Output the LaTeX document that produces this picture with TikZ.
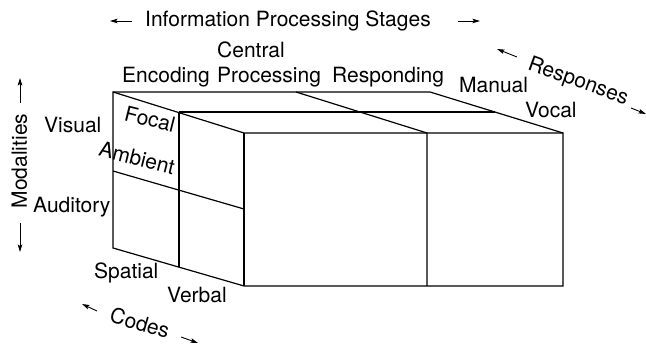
\documentclass[tikz,border=0pt]{standalone}
\usepackage{fontspec}
\setmainfont{TeX Gyre Heros}
\usetikzlibrary{arrows.meta}
\tikzset{
  boxline/.style={line width=1.2pt, line join=miter},
  dirarrow/.style={line width=0.9pt, -{Stealth[length=7.5pt,width=4.5pt,inset=1.5pt]}},
  lbl/.style={inner sep=0pt, font=\fontsize{21}{25}\selectfont},
}
\begin{document}
\begin{tikzpicture}[x=1pt,y=-1pt]
\useasboundingbox (0,0) rectangle (646,344);
% box corners
\coordinate (A) at (113,92);
\coordinate (B) at (244,133);
\coordinate (C) at (244,286);
\coordinate (D) at (113,248);
\coordinate (E) at (430,92);
\coordinate (F) at (563,133);
\coordinate (G) at (563,286);
\coordinate (H) at (296,92);
\coordinate (I) at (427,133);
\coordinate (J) at (427,286);
\coordinate (M1) at (179,112);
\coordinate (M2) at (495,112);
\coordinate (M3) at (179,267);
\coordinate (L1) at (113,171);
\coordinate (L2) at (244,209);
% box
\draw[boxline] (A) -- (E) -- (F) -- (G) -- (C) -- (D) -- cycle;
\draw[boxline] (A) -- (B) -- (F);
\draw[boxline] (B) -- (C);
\draw[boxline] (H) -- (I) -- (J);
\draw[boxline] (M1) -- (M2);
\draw[boxline] (M1) -- (M3);
\draw[boxline] (L1) -- (L2);
% title
\node[lbl, anchor=base west] (title) at (145,27) {Information Processing Stages};
\coordinate (t1) at (132,21); \coordinate (t2) at (110,21);
\coordinate (t3) at (458,21); \coordinate (t4) at (480,21);
\draw[dirarrow] (t1) -- (t2);
\draw[dirarrow] (t3) -- (t4);
% stages
\node[lbl, anchor=base west] (enc) at (122,83) {Encoding};
\node[lbl, anchor=base west] (cen) at (217,58) {Central};
\node[lbl, anchor=base west] (pro) at (217,83) {Processing};
\node[lbl, anchor=base west] (res) at (332,83) {Responding};
% responses
\node[lbl, anchor=base west] (man) at (459,93) {Manual};
\node[lbl, anchor=base west] (voc) at (525,118) {Vocal};
\node[lbl, rotate=-20] (resp) at (578,82) {Responses};
\coordinate (r1) at (517,57); \coordinate (r2) at (497,49);
\coordinate (r3) at (631,108); \coordinate (r4) at (646,114);
\draw[dirarrow] (r1) -- (r2);
\draw[dirarrow] (r3) -- (r4);
% modalities
\node[lbl, anchor=base west] (vis) at (44,133) {Visual};
\node[lbl, anchor=base west] (aud) at (33,213) {Auditory};
\node[lbl, anchor=base, rotate=90] (mod) at (27,161) {Modalities};
\coordinate (m1) at (20,103); \coordinate (m2) at (20,78);
\coordinate (m3) at (20,223); \coordinate (m4) at (20,252);
\draw[dirarrow] (m1) -- (m2);
\draw[dirarrow] (m3) -- (m4);
% focal / ambient
\node[lbl, rotate=-14] (foc) at (150,119) {Focal};
\node[lbl, rotate=-14] (amb) at (137,158) {Ambient};
% codes
\node[lbl, anchor=base west] (spa) at (94,279) {Spatial};
\node[lbl, anchor=base west] (ver) at (167,303) {Verbal};
\node[lbl, rotate=-16] (cod) at (140,323) {Codes};
\coordinate (c1) at (97,311); \coordinate (c2) at (82,304);
\coordinate (c3) at (181,337); \coordinate (c4) at (198,343);
\draw[dirarrow] (c1) -- (c2);
\draw[dirarrow] (c3) -- (c4);
\end{tikzpicture}
\end{document}
